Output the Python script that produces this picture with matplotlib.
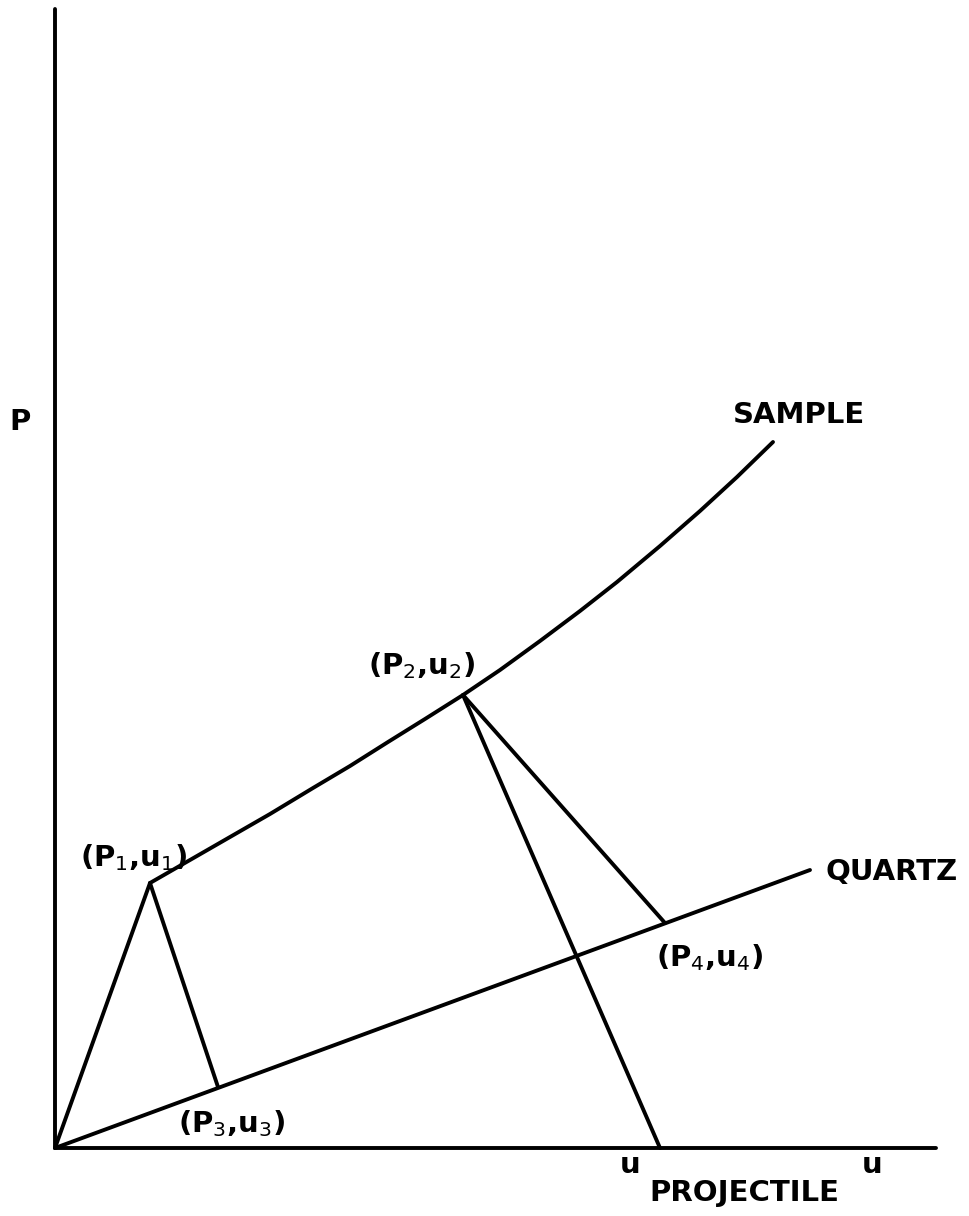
"""Impedance-match construction: sample and quartz Hugoniots in the P-u plane."""
import matplotlib
matplotlib.use("Agg")
import matplotlib.pyplot as plt

# Sample Hugoniot, read as (u, P) points
sample_u = [0.95, 1.35, 1.75, 2.15, 2.58, 2.95, 3.33, 3.70, 4.08, 4.45,
            4.85, 5.25, 5.62, 6.05, 6.45, 6.82, 7.18]
sample_p = [2.65, 2.88, 3.11, 3.34, 3.60, 3.82, 4.06, 4.29, 4.53, 4.78,
            5.07, 5.37, 5.66, 6.02, 6.37, 6.71, 7.06]

# Quartz Hugoniot (straight line from origin)
quartz_u = [0.0, 7.55]
quartz_p = [0.0, 2.78]

# State points
P1 = (0.95, 2.65)
P2 = (4.08, 4.53)
P3 = (1.63, 0.61)
P4 = (6.10, 2.25)
u_proj = 6.05  # projectile velocity on the u axis

u_max, p_max = 8.81, 11.39

labels = [
    ("(P$_1$,u$_1$)", 0.79, 2.90),
    ("(P$_2$,u$_2$)", 3.67, 4.82),
    ("(P$_3$,u$_3$)", 1.77, 0.24),
    ("(P$_4$,u$_4$)", 6.55, 1.90),
]

fig = plt.figure(figsize=(9.70, 12.16), dpi=100)
ax = fig.add_axes([0, 0, 1, 1])
ax.set_xlim(-0.55, 9.15)
ax.set_ylim(-0.68, 11.48)
ax.axis("off")

k = dict(color="black", lw=2.8, solid_capstyle="round", solid_joinstyle="round")

# axes
ax.plot([0, 0], [0, p_max], **k)
ax.plot([0, u_max], [0, 0], **k)

# Hugoniots
ax.plot(sample_u, sample_p, **k)
ax.plot(quartz_u, quartz_p, **k)

# construction lines
ax.plot([0, P1[0]], [0, P1[1]], **k)
ax.plot([P1[0], P3[0]], [P1[1], P3[1]], **k)
ax.plot([P2[0], P4[0]], [P2[1], P4[1]], **k)
ax.plot([P2[0], u_proj], [P2[1], 0], **k)

fs = 21
tk = dict(fontsize=fs, fontweight="bold", ha="center", va="center", family="DejaVu Sans")
ax.text(-0.35, 7.26, "P", **tk)
ax.text(7.44, 7.33, "SAMPLE", **tk)
ax.text(8.37, 2.76, "QUARTZ", **tk)
for s, x, y in labels:
    ax.text(x, y, s, **tk)
ax.text(5.75, -0.17, "u", **tk)
ax.text(8.17, -0.17, "u", **tk)
ax.text(6.89, -0.45, "PROJECTILE", **tk)

fig.savefig("out.png", dpi=100, facecolor="white")
